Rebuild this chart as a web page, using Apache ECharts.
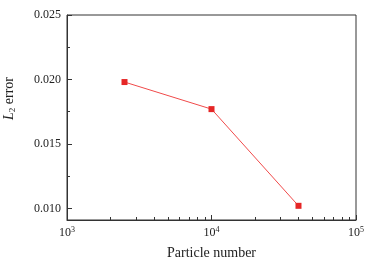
<!DOCTYPE html>
<html><head><meta charset="utf-8">
<script src="https://cdn.jsdelivr.net/npm/echarts@6/dist/echarts.min.js"></script>
<style>html,body{margin:0;padding:0;background:#fff}#c{width:376px;height:265px}</style>
</head><body><div id="c"></div>
<script>
const particles = [2500, 10000, 40000];
const l2Error = [0.0198, 0.0177, 0.0102];
const xMajorTicks = [1000, 10000, 100000];
const xMinorTicks = [2000,3000,4000,5000,6000,7000,8000,9000,20000,30000,40000,50000,60000,70000,80000,90000];
const yMajorTicks = [0.010, 0.015, 0.020, 0.025];
const yMinorTicks = [0.0125, 0.0175, 0.0225];

const font = 'Liberation Serif';
const axisColor = '#333';
const chart = echarts.init(document.getElementById('c'));
chart.setOption({
  animation: false,
  grid: {left: 67, right: 20, top: 15, bottom: 45, containLabel: false, outerBoundsMode: 'none',
    show: true, borderColor: axisColor, borderWidth: 1, backgroundColor: 'transparent'},
  xAxis: [{
    type: 'log', logBase: 10, min: 1000, max: 100000,
    name: 'Particle number', nameLocation: 'middle', nameGap: 26,
    nameTextStyle: {fontFamily: font, fontSize: 14, color: '#222'},
    axisLine: {lineStyle: {color: axisColor, width: 1}},
    axisTick: {inside: true, length: 5, customValues: xMajorTicks, lineStyle: {color: axisColor}},
    splitLine: {show: false},
    axisLabel: {
      customValues: xMajorTicks, margin: 6,
      fontFamily: font, fontSize: 12, color: '#222',
      formatter: v => '10{s|' + Math.round(Math.log10(v)) + '}',
      rich: {s: {fontFamily: font, fontSize: 8, verticalAlign: 'top', padding: [0,0,6,0], color: '#222'}}
    }
  }, {
    type: 'log', logBase: 10, min: 1000, max: 100000, position: 'bottom',
    axisLine: {show: false},
    axisTick: {inside: true, length: 3, customValues: xMinorTicks, lineStyle: {color: axisColor}},
    axisLabel: {show: false}, splitLine: {show: false}
  }],
  yAxis: [{
    type: 'value', min: 0.0091, max: 0.025,
    name: '{i|L}{sub|2} error', nameLocation: 'middle', nameGap: 50, nameRotate: 90,
    nameTextStyle: {fontFamily: font, fontSize: 14, color: '#222', padding: [0, 0, 0, 38],
      rich: {i: {fontFamily: font, fontStyle: 'italic', fontSize: 14, color: '#222'},
             sub: {fontFamily: font, fontSize: 9, verticalAlign: 'bottom', padding: [6,0,0,0], color: '#222'}}},
    axisLine: {show: true, lineStyle: {color: axisColor, width: 1}},
    axisTick: {show: true, inside: true, length: 5, customValues: yMajorTicks, lineStyle: {color: axisColor}},
    splitLine: {show: false},
    axisLabel: {customValues: yMajorTicks, margin: 6, fontFamily: font, fontSize: 12, color: '#222',
      formatter: v => v.toFixed(3)}
  }, {
    type: 'value', min: 0.0091, max: 0.025, position: 'left',
    axisLine: {show: false},
    axisTick: {show: true, inside: true, length: 3, customValues: yMinorTicks, lineStyle: {color: axisColor}},
    axisLabel: {show: false}, splitLine: {show: false}
  }],
  series: [{
    type: 'line', xAxisIndex: 0, yAxisIndex: 0,
    data: particles.map((p, i) => [p, l2Error[i]]),
    symbol: 'rect', symbolSize: 6,
    lineStyle: {color: '#f04a4a', width: 1},
    itemStyle: {color: '#e52626'}
  }]
});
</script></body></html>
